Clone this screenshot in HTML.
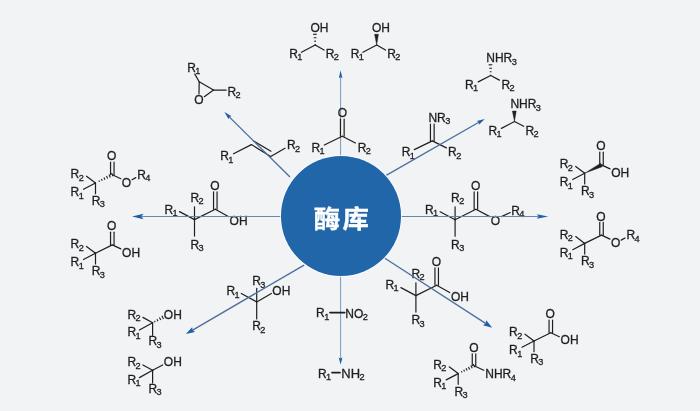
<!DOCTYPE html>
<html lang="zh-CN">
<head>
<meta charset="utf-8">
<title>酶库</title>
<style>
html,body{margin:0;padding:0;background:#f1f3f5;}
body{width:700px;height:411px;overflow:hidden;position:relative;font-family:"Liberation Sans","Noto Sans CJK SC",sans-serif;}
svg{position:absolute;left:0;top:0;display:block;will-change:transform;}
svg{font-size:12px;}
svg text{font-family:"Liberation Sans",sans-serif;fill:#1f1f1f;stroke:#1f1f1f;stroke-width:0.3px;}
svg .s{font-size:9.2px;}
.b{stroke:#1f1f1f;stroke-width:1.2;stroke-linecap:round;fill:none;}
.h{stroke:#1f1f1f;fill:none;}
.w{fill:#1f1f1f;stroke:#1f1f1f;stroke-width:0.4;stroke-linejoin:round;}
.a{stroke:#4d6f9e;stroke-width:1.2;fill:none;}
.ah{fill:#1f5fa8;stroke:none;}
.hub{position:absolute;left:280.7px;top:156.3px;width:120.6px;height:119.4px;border-radius:50%;background:#2166a9;box-shadow:0 0 0 1px rgba(255,255,255,.75);}
.hub span{position:absolute;left:0.5px;right:-0.5px;top:50%;transform:translateY(-50%) scale(0.978,0.93);margin-top:4.2px;-webkit-text-stroke:0.35px #fff;text-align:center;color:#fff;font-family:"Liberation Sans","Noto Sans CJK SC",sans-serif;font-weight:bold;font-size:27px;line-height:30px;letter-spacing:2.5px;text-indent:2.5px;white-space:nowrap;}
</style>
</head>
<body>
<svg width="700" height="411" viewBox="0 0 700 411">
<g id="varrows">
<line class="a" x1="340.6" y1="157" x2="340.6" y2="77.1" style="stroke-width:0.9;stroke:#6a90bb"/>
<polygon class="ah" points="340.6,70.3 342.4,78.3 340.6,77.1 338.8,78.3"/>
<line class="a" x1="340.6" y1="275" x2="340.6" y2="358.45" style="stroke-width:0.9;stroke:#6a90bb"/>
<polygon class="ah" points="340.6,364.4 338.7,357.4 340.6,358.45 342.5,357.4"/>
</g>
<g id="mols">
<text x="187.3" y="71.9">R<tspan class="s" dx="-0.6" dy="2.45">1</tspan></text>
<line class="b" x1="194.8" y1="74.1" x2="199.2" y2="81.8"/>
<line class="b" x1="199.2" y1="81.8" x2="213.5" y2="90.1"/>
<line class="b" x1="199.2" y1="81.8" x2="199" y2="93.8"/>
<line class="b" x1="213.5" y1="90.1" x2="204.3" y2="96.7"/>
<line class="b" x1="213.5" y1="90.1" x2="226.2" y2="90.1"/>
<text x="227.5" y="95.5">R<tspan class="s" dx="-0.6" dy="2.45">2</tspan></text>
<text x="194.37" y="104">O</text>
<text x="220.3" y="160.4">R<tspan class="s" dx="-0.6" dy="2.45">1</tspan></text>
<line class="b" x1="233.5" y1="153.8" x2="251.4" y2="144.6"/>
<line class="b" x1="251.4" y1="144.6" x2="270.7" y2="156.4"/>
<line class="b" x1="253.6" y1="141" x2="270.9" y2="151.2"/>
<line class="b" x1="270.7" y1="156.4" x2="285" y2="148.2"/>
<text x="287" y="149.4">R<tspan class="s" dx="-0.6" dy="2.45">2</tspan></text>
<text x="310.47" y="31.6">OH</text>
<line class="h" x1="314.75" y1="44.61" x2="315.65" y2="44.59" style="stroke-width:1.1"/>
<line class="h" x1="314.23" y1="41.18" x2="316.03" y2="41.15" style="stroke-width:1.1"/>
<line class="h" x1="313.72" y1="37.76" x2="316.42" y2="37.71" style="stroke-width:1.1"/>
<line class="h" x1="313.2" y1="34.33" x2="316.8" y2="34.27" style="stroke-width:1.1"/>
<line class="b" x1="315.2" y1="45" x2="301.4" y2="52.3"/>
<line class="b" x1="315.2" y1="45" x2="324" y2="50.1"/>
<text x="289.2" y="57.9">R<tspan class="s" dx="-0.6" dy="2.45">1</tspan></text>
<text x="325.7" y="57.9">R<tspan class="s" dx="-0.6" dy="2.45">2</tspan></text>
<text x="371.97" y="31.6">OH</text>
<polygon class="w" points="376.7,45 378.45,34.26 374.55,34.34"/>
<line class="b" x1="376.7" y1="45" x2="362.9" y2="52.3"/>
<line class="b" x1="376.7" y1="45" x2="385.5" y2="50.1"/>
<text x="350.7" y="57.9">R<tspan class="s" dx="-0.6" dy="2.45">1</tspan></text>
<text x="387.2" y="57.9">R<tspan class="s" dx="-0.6" dy="2.45">2</tspan></text>
<text x="337.77" y="116.8">O</text>
<line class="b" x1="340.45" y1="119" x2="340.45" y2="136.2"/>
<line class="b" x1="344.15" y1="119" x2="344.15" y2="136.2"/>
<line class="b" x1="342.3" y1="136.2" x2="324.3" y2="145"/>
<line class="b" x1="342.3" y1="136.2" x2="355.4" y2="143"/>
<text x="311.4" y="151.8">R<tspan class="s" dx="-0.6" dy="2.45">1</tspan></text>
<text x="357.8" y="151.8">R<tspan class="s" dx="-0.6" dy="2.45">2</tspan></text>
<text x="428.44" y="121.9">NR<tspan class="s" dx="-0.6" dy="2.45">3</tspan></text>
<line class="b" x1="430.45" y1="124.1" x2="430.45" y2="140.9"/>
<line class="b" x1="434.15" y1="124.1" x2="434.15" y2="140.9"/>
<line class="b" x1="432.3" y1="140.9" x2="414.3" y2="149.6"/>
<line class="b" x1="432.3" y1="140.9" x2="446.4" y2="147.9"/>
<text x="401.7" y="156.1">R<tspan class="s" dx="-0.6" dy="2.45">1</tspan></text>
<text x="448.1" y="156.1">R<tspan class="s" dx="-0.6" dy="2.45">2</tspan></text>
<text x="486.24" y="62.3">NHR<tspan class="s" dx="-0.6" dy="2.45">3</tspan></text>
<line class="h" x1="490.25" y1="75.21" x2="491.15" y2="75.19" style="stroke-width:1.1"/>
<line class="h" x1="489.73" y1="71.75" x2="491.53" y2="71.72" style="stroke-width:1.1"/>
<line class="h" x1="489.22" y1="68.29" x2="491.92" y2="68.24" style="stroke-width:1.1"/>
<line class="h" x1="488.7" y1="64.83" x2="492.3" y2="64.77" style="stroke-width:1.1"/>
<line class="b" x1="490.7" y1="75.5" x2="478.2" y2="81.9"/>
<line class="b" x1="490.7" y1="75.5" x2="499.4" y2="80.1"/>
<text x="465" y="88.6">R<tspan class="s" dx="-0.6" dy="2.45">1</tspan></text>
<text x="501.5" y="88.6">R<tspan class="s" dx="-0.6" dy="2.45">2</tspan></text>
<text x="510.44" y="108.4">NHR<tspan class="s" dx="-0.6" dy="2.45">3</tspan></text>
<polygon class="w" points="514.5,121.5 516.25,110.96 512.35,111.04"/>
<line class="b" x1="514.5" y1="121.5" x2="501.4" y2="128.4"/>
<line class="b" x1="514.5" y1="121.5" x2="523.7" y2="126.3"/>
<text x="488.5" y="134.6">R<tspan class="s" dx="-0.6" dy="2.45">1</tspan></text>
<text x="525.4" y="134.6">R<tspan class="s" dx="-0.6" dy="2.45">2</tspan></text>
<text x="559.8" y="168.4">R<tspan class="s" dx="-0.6" dy="2.45">2</tspan></text>
<line class="b" x1="584.7" y1="173.2" x2="575.7" y2="166.4"/>
<text x="559.8" y="186.4">R<tspan class="s" dx="-0.6" dy="2.45">1</tspan></text>
<line class="b" x1="584.7" y1="173.2" x2="572.7" y2="179.5"/>
<text x="581" y="195.2">R<tspan class="s" dx="-0.6" dy="2.45">3</tspan></text>
<line class="b" x1="584.7" y1="173.2" x2="584.7" y2="183.9"/>
<polygon class="w" points="584.7,173.2 602.36,166.65 600.64,163.15"/>
<text x="596.17" y="150.4">O</text>
<line class="b" x1="599.75" y1="152.2" x2="599.75" y2="164.9"/>
<line class="b" x1="603.25" y1="152.2" x2="603.25" y2="164.9"/>
<line class="b" x1="601.5" y1="164.9" x2="610" y2="168.9"/>
<text x="611.27" y="176.6">OH</text>
<text x="559.8" y="238.6">R<tspan class="s" dx="-0.6" dy="2.45">2</tspan></text>
<line class="b" x1="584.7" y1="243.4" x2="575.7" y2="236.6"/>
<text x="559.8" y="256.6">R<tspan class="s" dx="-0.6" dy="2.45">1</tspan></text>
<line class="b" x1="584.7" y1="243.4" x2="572.7" y2="249.7"/>
<text x="581" y="265.4">R<tspan class="s" dx="-0.6" dy="2.45">3</tspan></text>
<line class="b" x1="584.7" y1="243.4" x2="584.7" y2="254.1"/>
<line class="b" x1="584.7" y1="243.4" x2="601.5" y2="235.1"/>
<text x="596.17" y="220.6">O</text>
<line class="b" x1="599.75" y1="222.4" x2="599.75" y2="235.1"/>
<line class="b" x1="603.25" y1="222.4" x2="603.25" y2="235.1"/>
<line class="b" x1="601.5" y1="235.1" x2="610" y2="239.1"/>
<text x="610.97" y="247.4">O</text>
<line class="b" x1="621.2" y1="240.1" x2="625" y2="238"/>
<text x="626.5" y="239.4">R<tspan class="s" dx="-0.6" dy="2.45">4</tspan></text>
<text x="70.6" y="178.2">R<tspan class="s" dx="-0.6" dy="2.45">2</tspan></text>
<line class="b" x1="95.5" y1="183" x2="86.5" y2="176.2"/>
<text x="70.6" y="196.2">R<tspan class="s" dx="-0.6" dy="2.45">1</tspan></text>
<line class="b" x1="95.5" y1="183" x2="83.5" y2="189.3"/>
<text x="91.8" y="205">R<tspan class="s" dx="-0.6" dy="2.45">3</tspan></text>
<line class="b" x1="95.5" y1="183" x2="95.5" y2="193.7"/>
<line class="h" x1="98.87" y1="180.5" x2="99.53" y2="181.84" style="stroke-width:1.1"/>
<line class="h" x1="101.39" y1="179.02" x2="102.24" y2="180.74" style="stroke-width:1.1"/>
<line class="h" x1="103.92" y1="177.54" x2="104.96" y2="179.63" style="stroke-width:1.1"/>
<line class="h" x1="106.45" y1="176.05" x2="107.67" y2="178.53" style="stroke-width:1.1"/>
<line class="h" x1="108.98" y1="174.57" x2="110.38" y2="177.42" style="stroke-width:1.1"/>
<line class="h" x1="111.5" y1="173.09" x2="113.1" y2="176.31" style="stroke-width:1.1"/>
<text x="106.97" y="160.2">O</text>
<line class="b" x1="110.55" y1="162" x2="110.55" y2="174.7"/>
<line class="b" x1="114.05" y1="162" x2="114.05" y2="174.7"/>
<line class="b" x1="112.3" y1="174.7" x2="120.8" y2="178.7"/>
<text x="121.77" y="187">O</text>
<line class="b" x1="132" y1="179.7" x2="135.8" y2="177.6"/>
<text x="137.3" y="179">R<tspan class="s" dx="-0.6" dy="2.45">4</tspan></text>
<text x="70.6" y="248.4">R<tspan class="s" dx="-0.6" dy="2.45">2</tspan></text>
<line class="b" x1="95.5" y1="253.2" x2="86.5" y2="246.4"/>
<text x="70.6" y="266.4">R<tspan class="s" dx="-0.6" dy="2.45">1</tspan></text>
<line class="b" x1="95.5" y1="253.2" x2="83.5" y2="259.5"/>
<text x="91.8" y="275.2">R<tspan class="s" dx="-0.6" dy="2.45">3</tspan></text>
<line class="b" x1="95.5" y1="253.2" x2="95.5" y2="263.9"/>
<line class="b" x1="95.5" y1="253.2" x2="112.3" y2="244.9"/>
<text x="106.97" y="230.4">O</text>
<line class="b" x1="110.55" y1="232.2" x2="110.55" y2="244.9"/>
<line class="b" x1="114.05" y1="232.2" x2="114.05" y2="244.9"/>
<line class="b" x1="112.3" y1="244.9" x2="120.8" y2="248.9"/>
<text x="122.07" y="256.6">OH</text>
<text x="509.1" y="336.2">R<tspan class="s" dx="-0.6" dy="2.45">2</tspan></text>
<line class="b" x1="534" y1="341" x2="525" y2="334.2"/>
<text x="509.1" y="354.2">R<tspan class="s" dx="-0.6" dy="2.45">1</tspan></text>
<line class="b" x1="534" y1="341" x2="522" y2="347.3"/>
<text x="530.3" y="363">R<tspan class="s" dx="-0.6" dy="2.45">3</tspan></text>
<line class="b" x1="534" y1="341" x2="534" y2="351.7"/>
<line class="b" x1="534" y1="341" x2="550.8" y2="332.7"/>
<text x="545.47" y="318.2">O</text>
<line class="b" x1="549.05" y1="320" x2="549.05" y2="332.7"/>
<line class="b" x1="552.55" y1="320" x2="552.55" y2="332.7"/>
<line class="b" x1="550.8" y1="332.7" x2="559.3" y2="336.7"/>
<text x="560.57" y="344.4">OH</text>
<text x="433.3" y="368.8">R<tspan class="s" dx="-0.6" dy="2.45">2</tspan></text>
<line class="b" x1="458.2" y1="373.6" x2="449.2" y2="366.8"/>
<text x="433.3" y="386.8">R<tspan class="s" dx="-0.6" dy="2.45">1</tspan></text>
<line class="b" x1="458.2" y1="373.6" x2="446.2" y2="379.9"/>
<text x="454.5" y="395.6">R<tspan class="s" dx="-0.6" dy="2.45">3</tspan></text>
<line class="b" x1="458.2" y1="373.6" x2="458.2" y2="384.3"/>
<line class="h" x1="461.34" y1="371.19" x2="462.01" y2="372.53" style="stroke-width:1.1"/>
<line class="h" x1="463.71" y1="369.77" x2="464.57" y2="371.49" style="stroke-width:1.1"/>
<line class="h" x1="466.08" y1="368.35" x2="467.13" y2="370.44" style="stroke-width:1.1"/>
<line class="h" x1="468.45" y1="366.93" x2="469.69" y2="369.4" style="stroke-width:1.1"/>
<line class="h" x1="470.82" y1="365.51" x2="472.25" y2="368.35" style="stroke-width:1.1"/>
<line class="h" x1="473.2" y1="364.09" x2="474.8" y2="367.31" style="stroke-width:1.1"/>
<text x="469.37" y="352">O</text>
<line class="b" x1="472.25" y1="353.8" x2="472.25" y2="365.7"/>
<line class="b" x1="475.75" y1="353.8" x2="475.75" y2="365.7"/>
<line class="b" x1="474" y1="365.7" x2="483.8" y2="370.2"/>
<text x="485.24" y="378.1">NHR<tspan class="s" dx="-0.6" dy="2.45">4</tspan></text>
<text x="164.4" y="213.8">R<tspan class="s" dx="-0.6" dy="2.45">1</tspan></text>
<line class="b" x1="179.5" y1="211.6" x2="194.5" y2="219.6"/>
<text x="190.5" y="201.8">R<tspan class="s" dx="-0.6" dy="2.45">2</tspan></text>
<line class="b" x1="194.5" y1="206.8" x2="194.5" y2="219.6"/>
<text x="190.5" y="248.9">R<tspan class="s" dx="-0.6" dy="2.45">3</tspan></text>
<line class="b" x1="194.5" y1="219.6" x2="194.5" y2="236.1"/>
<line class="b" x1="194.5" y1="219.6" x2="215.3" y2="209.2"/>
<text x="210.37" y="189.7">O</text>
<line class="b" x1="213.55" y1="191.8" x2="213.55" y2="209.2"/>
<line class="b" x1="217.05" y1="191.8" x2="217.05" y2="209.2"/>
<line class="b" x1="215.3" y1="209.2" x2="228.3" y2="216.6"/>
<text x="229.57" y="224.7">OH</text>
<text x="425" y="213.9">R<tspan class="s" dx="-0.6" dy="2.45">1</tspan></text>
<line class="b" x1="440.1" y1="211.7" x2="455.1" y2="219.7"/>
<text x="451.1" y="201.9">R<tspan class="s" dx="-0.6" dy="2.45">2</tspan></text>
<line class="b" x1="455.1" y1="206.9" x2="455.1" y2="219.7"/>
<text x="451.1" y="249">R<tspan class="s" dx="-0.6" dy="2.45">3</tspan></text>
<line class="b" x1="455.1" y1="219.7" x2="455.1" y2="236.2"/>
<line class="b" x1="455.1" y1="219.7" x2="475.9" y2="209.3"/>
<text x="470.97" y="189.8">O</text>
<line class="b" x1="474.15" y1="191.9" x2="474.15" y2="209.3"/>
<line class="b" x1="477.65" y1="191.9" x2="477.65" y2="209.3"/>
<line class="b" x1="475.9" y1="209.3" x2="489.8" y2="216.6"/>
<text x="490.67" y="225.2">O</text>
<line class="b" x1="501.5" y1="216.6" x2="510.3" y2="212.5"/>
<text x="511.2" y="214.6">R<tspan class="s" dx="-0.6" dy="2.45">4</tspan></text>
<text x="385.4" y="289">R<tspan class="s" dx="-0.6" dy="2.45">1</tspan></text>
<line class="b" x1="400.9" y1="287.6" x2="415.9" y2="295.6"/>
<text x="411.5" y="277.8">R<tspan class="s" dx="-0.6" dy="2.45">2</tspan></text>
<line class="b" x1="415.9" y1="282.8" x2="415.9" y2="295.6"/>
<text x="411.5" y="324.1">R<tspan class="s" dx="-0.6" dy="2.45">3</tspan></text>
<line class="b" x1="415.9" y1="295.6" x2="415.9" y2="312.1"/>
<line class="b" x1="415.9" y1="295.6" x2="436.7" y2="285.2"/>
<text x="431.77" y="265.7">O</text>
<line class="b" x1="434.95" y1="267.8" x2="434.95" y2="285.2"/>
<line class="b" x1="438.45" y1="267.8" x2="438.45" y2="285.2"/>
<line class="b" x1="436.7" y1="285.2" x2="449.7" y2="292.6"/>
<text x="450.97" y="300.7">OH</text>
<text x="252.2" y="285.1">R<tspan class="s" dx="-0.6" dy="2.45">3</tspan></text>
<line class="b" x1="256.7" y1="288.3" x2="256.7" y2="301.9"/>
<text x="226.5" y="295.3">R<tspan class="s" dx="-0.6" dy="2.45">1</tspan></text>
<line class="b" x1="241.3" y1="293.5" x2="256.7" y2="301.9"/>
<line class="b" x1="256.7" y1="301.9" x2="271.4" y2="293.5"/>
<text x="272.37" y="295.3">OH</text>
<line class="b" x1="256.7" y1="301.9" x2="256.7" y2="318.9"/>
<text x="252.2" y="330.3">R<tspan class="s" dx="-0.6" dy="2.45">2</tspan></text>
<text x="127.5" y="318.7">R<tspan class="s" dx="-0.6" dy="2.45">2</tspan></text>
<line class="b" x1="142.9" y1="317.4" x2="152.6" y2="322.7"/>
<text x="127.5" y="336.2">R<tspan class="s" dx="-0.6" dy="2.45">1</tspan></text>
<line class="b" x1="139.4" y1="330" x2="152.6" y2="322.7"/>
<line class="b" x1="152.6" y1="322.7" x2="152.6" y2="335.3"/>
<text x="148.5" y="345.2">R<tspan class="s" dx="-0.6" dy="2.45">3</tspan></text>
<line class="h" x1="154.47" y1="320.87" x2="155.17" y2="322.2" style="stroke-width:1.1"/>
<line class="h" x1="156.94" y1="319.18" x2="157.96" y2="321.13" style="stroke-width:1.1"/>
<line class="h" x1="159.4" y1="317.49" x2="160.75" y2="320.06" style="stroke-width:1.1"/>
<line class="h" x1="161.86" y1="315.81" x2="163.54" y2="318.99" style="stroke-width:1.1"/>
<text x="163.87" y="318.7">OH</text>
<text x="127.5" y="366.3">R<tspan class="s" dx="-0.6" dy="2.45">2</tspan></text>
<line class="b" x1="142.9" y1="365" x2="152.6" y2="370.3"/>
<text x="127.5" y="383.8">R<tspan class="s" dx="-0.6" dy="2.45">1</tspan></text>
<line class="b" x1="139.4" y1="377.6" x2="152.6" y2="370.3"/>
<line class="b" x1="152.6" y1="370.3" x2="152.6" y2="382.9"/>
<text x="148.5" y="392.8">R<tspan class="s" dx="-0.6" dy="2.45">3</tspan></text>
<line class="b" x1="152.6" y1="370.3" x2="162.7" y2="365"/>
<text x="163.87" y="366.3">OH</text>
<text x="316.1" y="317.3">R<tspan class="s" dx="-0.6" dy="2.45">1</tspan></text>
<line class="b" x1="330" y1="312.6" x2="344.7" y2="312.6" style="stroke-width:1.7"/>
<text x="345.24" y="317.7">NO<tspan class="s" dx="-0.6" dy="2.45">2</tspan></text>
<text x="317.9" y="377.7">R<tspan class="s" dx="-0.6" dy="2.45">1</tspan></text>
<line class="b" x1="332" y1="372.6" x2="340" y2="372.6" style="stroke-width:1.7"/>
<text x="341.26" y="377.9" font-size="13px">NH<tspan class="s" dx="-0.6" dy="2.45">2</tspan></text>
</g>
<g id="arrows">
<line class="a" x1="281" y1="216.5" x2="141.43" y2="216.5" style="stroke-width:1;stroke:#6487ad"/>
<polygon class="ah" points="132,216.5 143.5,213.7 141.43,216.5 143.5,219.3"/>
<line class="a" x1="401" y1="216.5" x2="538.77" y2="216.5" style="stroke-width:1;stroke:#6487ad"/>
<polygon class="ah" points="548.2,216.5 536.7,218.8 538.77,216.5 536.7,214.2"/>
<line class="a" x1="290" y1="177" x2="229.23" y2="116.88" style="stroke-width:1.35"/>
<polygon class="ah" points="224.4,112.1 231.56,116.23 229.23,116.88 228.61,119.22"/>
<line class="a" x1="386.2" y1="175.4" x2="478.9" y2="122.28" style="stroke-width:1.35"/>
<polygon class="ah" points="484.8,118.9 478.9,124.7 478.9,122.28 476.81,121.06"/>
<line class="a" x1="304.1" y1="265.1" x2="192.64" y2="330.11" style="stroke-width:1.35"/>
<polygon class="ah" points="185.8,334.1 192.16,327.15 192.64,330.11 194.98,331.98"/>
<line class="a" x1="384.5" y1="258" x2="485.55" y2="323.4" style="stroke-width:1.35"/>
<polygon class="ah" points="492.2,327.7 483.01,325.33 485.55,323.4 486.27,320.29"/>
</g>
</svg>
<div class="hub"><span>酶库</span></div>
</body>
</html>
